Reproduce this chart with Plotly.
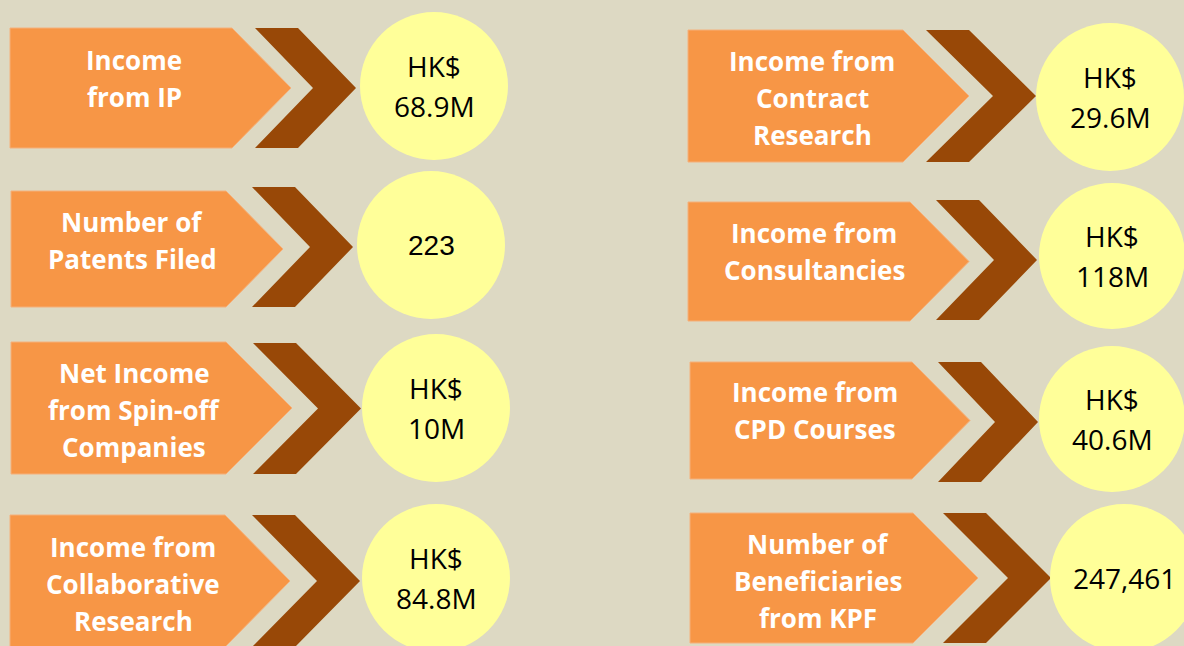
import plotly.graph_objects as go

# Data
left_labels = [
    ["Income", "from IP"],
    ["Number of", "Patents Filed"],
    ["Net Income", "from Spin-off", "Companies"],
    ["Income from", "Collaborative", "Research"],
]
left_values = [
    ["HK$", "68.9M"],
    ["223"],
    ["HK$", "10M"],
    ["HK$", "84.8M"],
]
right_labels = [
    ["Income from", "Contract", "Research"],
    ["Income from", "Consultancies"],
    ["Income from", "CPD Courses"],
    ["Number of", "Beneficiaries", "from KPF"],
]
right_values = [
    ["HK$", "29.6M"],
    ["HK$", "118M"],
    ["HK$", "40.6M"],
    ["247,461"],
]

labels = left_labels + right_labels
values = left_values + right_values

# Layout of each block (pixel coordinates, y down)
# pentagon: left, top, bottom, flat end, tip
pent = [
    (10, 28, 148, 232, 291),
    (11, 191, 307, 226, 283),
    (11, 342, 474, 226, 292),
    (10, 515, 647, 225, 290),
    (688, 30, 162, 903, 969),
    (688, 202, 321, 910, 969),
    (690, 362, 479, 912, 970),
    (690, 513, 643, 913, 978),
]
# chevron: left, top, bottom, tip
chev = [
    (255, 28, 148, 356),
    (252, 187, 307, 353),
    (253, 343, 474, 361),
    (252, 515, 647, 360),
    (926, 30, 162, 1036),
    (936, 200, 320, 1037),
    (938, 362, 482, 1038),
    (943, 513, 643, 1051),
]
chev_thick = 43
# circle: cx, cy, r
circ = [
    (434, 86, 74),
    (431, 245, 74),
    (436, 408, 74),
    (436, 578, 74),
    (1110, 97, 74),
    (1112, 256, 73),
    (1112, 419, 73),
    (1124, 578, 74),
]
label_x = [134, 132, 134, 133, 812, 814, 815, 818]
label_y = [78, 240, 410, 584, 98, 251, 410, 581]
value_font = ["Open Sans", "Liberation Sans", "Open Sans", "Open Sans",
              "Open Sans", "Open Sans", "Open Sans", "Open Sans"]

BG = "#DDD9C3"
ORANGE = "#F79646"
BROWN = "#984807"
YELLOW = "#FFFF99"

fig = go.Figure()

for (x0, t, b, xf, xt) in pent:
    ym = (t + b) / 2
    fig.add_trace(go.Scatter(
        x=[x0, xf, xt, xf, x0, x0], y=[t, t, ym, b, b, t],
        mode="lines", fill="toself", fillcolor=ORANGE,
        line=dict(color="#F5B07A", width=1), hoverinfo="skip", showlegend=False))

for (x0, t, b, xt) in chev:
    ym = (t + b) / 2
    xs = [x0, x0 + chev_thick, xt, x0 + chev_thick, x0, xt - chev_thick, x0]
    ys = [t, t, ym, b, b, ym, t]
    fig.add_trace(go.Scatter(
        x=xs, y=ys, mode="lines", fill="toself", fillcolor=BROWN,
        line=dict(color=BROWN, width=0), hoverinfo="skip", showlegend=False))

for (cx, cy, r) in circ:
    fig.add_shape(type="circle", xref="x", yref="y",
                  x0=cx - r, x1=cx + r, y0=cy - r, y1=cy + r,
                  fillcolor=YELLOW, line=dict(width=0), layer="above")

# label text, one annotation per line
for i, lines in enumerate(labels):
    n = len(lines)
    for j, s in enumerate(lines):
        fig.add_annotation(
            x=label_x[i], y=label_y[i] + (j - (n - 1) / 2) * 37,
            xref="x", yref="y", text=f"<b>{s}</b>", showarrow=False,
            font=dict(family="Open Sans", size=26, color="white"))

for i, lines in enumerate(values):
    n = len(lines)
    cx, cy, r = circ[i]
    for j, s in enumerate(lines):
        fig.add_annotation(
            x=cx, y=cy + (j - (n - 1) / 2) * 40,
            xref="x", yref="y", text=s, showarrow=False,
            font=dict(family=value_font[i], size=28, color="black"))

fig.update_xaxes(range=[0, 1184], visible=False, fixedrange=True)
fig.update_yaxes(range=[646, 0], visible=False, fixedrange=True)
fig.update_layout(
    width=1184, height=646,
    margin=dict(l=0, r=0, t=0, b=0),
    paper_bgcolor=BG, plot_bgcolor=BG,
    showlegend=False,
)

fig.write_html("out.html", config={"displayModeBar": False},
               post_script="document.body.style.margin='0';")
